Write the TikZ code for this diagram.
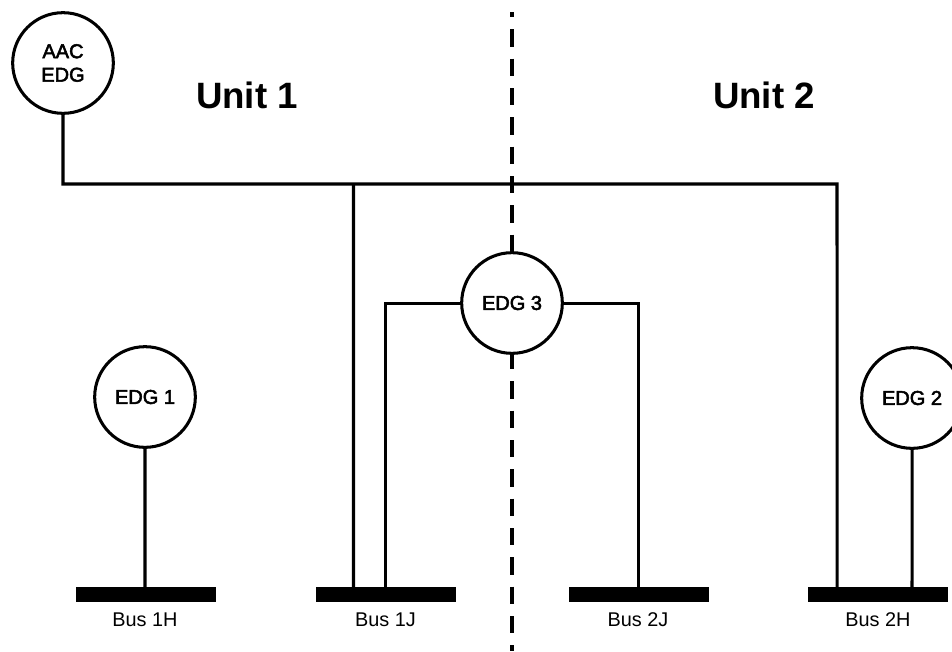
\documentclass[tikz,border=0pt]{standalone}
\usepackage{fontspec}
\setmainfont{Liberation Sans}
\newfontfamily\edgfont[FakeBold=2.6]{Liberation Sans}
\usetikzlibrary{positioning}
\tikzset{
  edgcircle/.style = {draw, circle, line width = .8mm, minimum size = 75.5pt, inner sep = 0pt, font = \fontsize{15}{17.6}\edgfont\selectfont, align = center, fill = white},
  busbar/.style = {fill = black, minimum width = 105pt, minimum height = 10.9pt, inner sep = 0pt},
  buslabel/.style = {font = \fontsize{14.9}{18}\selectfont, inner sep = 0pt},
  unitlabel/.style = {font = \fontsize{27.5}{32}\bfseries\selectfont, inner sep = 0pt},
  wire/.style = {line width = .8mm},
  divider/.style = {line width = 1.2mm, dash pattern = on 13.1pt off 8.9pt, dash phase = 9pt}
}
\begin{document}
\begin{tikzpicture}[x = 1pt, y = -1pt, xscale = .75, yscale = .75]
    \useasboundingbox (0, 0) rectangle (952, 651);
    %%divider
    \coordinate (divtop) at (512, 12);
    \coordinate (divbot) at (512, 651);
    \draw[divider] (divtop) to (divbot);

    %%sources
    \node[edgcircle] (aac) at (63, 63){AAC\\EDG};
    \node[edgcircle] (edg3) at (512, 303){EDG 3};
    \node[edgcircle] (edg1) at (145, 397){EDG 1};
    \node[edgcircle] (edg2) at (912, 398){EDG 2};

    %%buses
    \node[busbar] (bus1h) at (145.5, 594.5){};
    \node[busbar] (bus1j) at (386, 594.5){};
    \node[busbar] (bus2j) at (638.5, 594.5){};
    \node[busbar] (bus2h) at (878, 594.5){};
    \node[buslabel] (lab1h) at (145, 620){Bus 1H};
    \node[buslabel] (lab1j) at (385.5, 620){Bus 1J};
    \node[buslabel] (lab2j) at (638, 620){Bus 2J};
    \node[buslabel] (lab2h) at (878, 620){Bus 2H};

    %%units
    \node[unitlabel] (unit1) at (247, 95){Unit 1};
    \node[unitlabel] (unit2) at (764, 95){Unit 2};

    %%connections
    \coordinate (tap1j) at (353.5, 594);
    \coordinate (tap3j) at (385, 594);
    \coordinate (tap2h) at (837, 601);
    \draw[wire] (aac.south) |- (837, 184) to (tap2h);
    \draw[wire] (353.5, 184) to (tap1j);
    \draw[wire] (edg3.west) -| (tap3j);
    \draw[wire] (edg3.east) -| (bus2j.center);
    \draw[wire] (edg1) to (145, 594);
    \draw[wire] (edg2) to (912, 594);
\end{tikzpicture}
\end{document}
